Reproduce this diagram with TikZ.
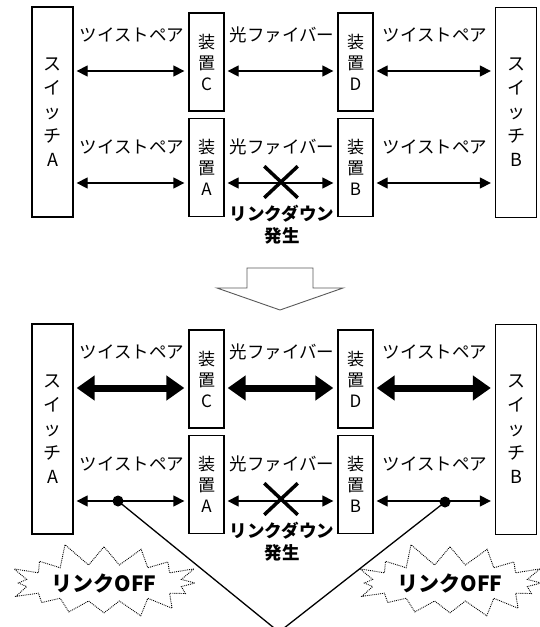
\documentclass[tikz,border=0pt]{standalone}
\usepackage{fontspec}
\setmainfont{Noto Sans CJK JP}
\usetikzlibrary{arrows.meta,shapes.symbols,shapes.misc}

\begin{document}
\begin{tikzpicture}[x=1pt,y=-1pt,
  box/.style={draw,line width=1.3pt,inner sep=0pt,align=center},
  swbox/.style={box,minimum width=41pt,minimum height=210pt,font=\fontsize{18}{24}\selectfont},
  devbox/.style={box,minimum width=35pt,minimum height=98pt,font=\fontsize{17}{21}\selectfont},
  cable/.style={font=\fontsize{17.5}{18}\selectfont},
  thinarr/.style={{Triangle[length=11pt,width=11pt]}-{Triangle[length=11pt,width=11pt]},line width=1.3pt,shorten <=3pt,shorten >=4pt},
  fatarr/.style={{Triangle[length=18pt,width=24pt]}-{Triangle[length=18pt,width=24pt]},line width=7pt,shorten <=3pt,shorten >=4pt},
  cut/.style={cross out,draw,line width=3.5pt,minimum width=30pt,minimum height=28pt,inner sep=0pt},
  fault/.style={font=\bfseries\fontsize{17.5}{22}\selectfont,align=center},
  dot/.style={circle,fill,inner sep=0pt,minimum size=11pt},
  boom/.style={starburst,draw,densely dotted,line width=0.9pt,starburst points=16,
    starburst point height=24pt,random starburst=11,minimum width=195pt,minimum height=84pt,
    font=\bfseries\fontsize{21}{22}\selectfont}]
  \useasboundingbox (0,0) rectangle (540,627);

  % before
  \node[swbox] (swAt) at (52.5,112) {ス\\イ\\ッ\\チ\\A};
  \node[devbox] (devCt) at (206.5,62) {装\\置\\C};
  \node[devbox] (devAt) at (206.5,167.5) {装\\置\\A};
  \node[devbox] (devDt) at (355.5,62) {装\\置\\D};
  \node[devbox] (devBt) at (355.5,167.5) {装\\置\\B};
  \node[swbox] (swBt) at (516,112.5) {ス\\イ\\ッ\\チ\\B};

  \node[cable] (tp1t) at (132,35) {ツイストペア};
  \node[cable] (of1t) at (282,35) {光ファイバー};
  \node[cable] (tp2t) at (435,35) {ツイストペア};
  \node[cable] (tp3t) at (132,147) {ツイストペア};
  \node[cable] (of2t) at (282,147) {光ファイバー};
  \node[cable] (tp4t) at (435,147) {ツイストペア};

  \draw[thinarr] (swAt.east |- 0,71) -- (devCt.west |- 0,71);
  \draw[thinarr] (devCt.east |- 0,71) -- (devDt.west |- 0,71);
  \draw[thinarr] (devDt.east |- 0,71) -- (swBt.west |- 0,71);
  \draw[thinarr] (swAt.east |- 0,183) -- (devAt.west |- 0,183);
  \draw[thinarr] (devAt.east |- 0,183) -- (devBt.west |- 0,183);
  \draw[thinarr] (devBt.east |- 0,183) -- (swBt.west |- 0,183);
  \node[cut] (xt) at (281,182) {};
  \node[fault] (downt) at (282,225) {リンクダウン\\発生};

  % arrow
  \draw[line width=0.9pt,gray!70!black] (247,268) -- (313,268) -- (313,288) -- (343,288)
    -- (280,310) -- (217,288) -- (247,288) -- cycle;

  % after
  \node[swbox] (swAb) at (52.5,429) {ス\\イ\\ッ\\チ\\A};
  \node[devbox] (devCb) at (206.5,379) {装\\置\\C};
  \node[devbox] (devAb) at (206.5,484.5) {装\\置\\A};
  \node[devbox] (devDb) at (355.5,379) {装\\置\\D};
  \node[devbox] (devBb) at (355.5,484.5) {装\\置\\B};
  \node[swbox] (swBb) at (516,429.5) {ス\\イ\\ッ\\チ\\B};

  \node[cable] (tp1b) at (132,352) {ツイストペア};
  \node[cable] (of1b) at (282,352) {光ファイバー};
  \node[cable] (tp2b) at (435,352) {ツイストペア};
  \node[cable] (tp3b) at (132,464) {ツイストペア};
  \node[cable] (of2b) at (282,464) {光ファイバー};
  \node[cable] (tp4b) at (435,464) {ツイストペア};

  \draw[fatarr] (swAb.east |- 0,388) -- (devCb.west |- 0,388);
  \draw[fatarr] (devCb.east |- 0,388) -- (devDb.west |- 0,388);
  \draw[fatarr] (devDb.east |- 0,388) -- (swBb.west |- 0,388);
  \draw[thinarr] (swAb.east |- 0,501) -- (devAb.west |- 0,501);
  \draw[thinarr] (devAb.east |- 0,501) -- (devBb.west |- 0,501);
  \draw[thinarr] (devBb.east |- 0,501) -- (swBb.west |- 0,501);
  \node[cut] (xb) at (281,499) {};
  \node[fault] (downb) at (282,542) {リンクダウン\\発生};

  \node[boom] (offL) at (104,583) {リンクOFF};
  \node[boom] (offR) at (450,583) {リンクOFF};
  \node[dot] (dotL) at (118,501) {};
  \node[dot] (dotR) at (445,502) {};
  \coordinate (meet) at (279,632);
  \draw[line width=1.3pt] (dotL.center) -- (meet) -- (dotR.center);
\end{tikzpicture}
\end{document}
